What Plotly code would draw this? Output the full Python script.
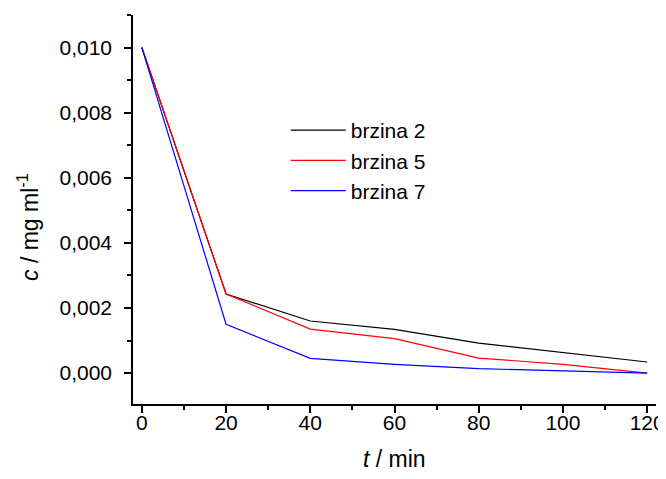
import plotly.graph_objects as go

t_min = [0, 20, 40, 60, 80, 100, 120]
brzina_2 = [0.0100, 0.00243, 0.00160, 0.00134, 0.00092, 0.00063, 0.00034]
brzina_5 = [0.0100, 0.00243, 0.00135, 0.00106, 0.00046, 0.00027, 0.00000]
brzina_7 = [0.0100, 0.00150, 0.00045, 0.00027, 0.000135, 0.00006, 0.00000]

series = [
    ("brzina 2", brzina_2, "#000000"),
    ("brzina 5", brzina_5, "#ff0000"),
    ("brzina 7", brzina_7, "#0000ff"),
]

fig = go.Figure()
for name, vals, color in series:
    fig.add_trace(go.Scatter(
        x=t_min, y=vals, name=name, mode="lines",
        line=dict(color=color, width=1.2),
    ))

font_family = "Liberation Sans, Arial"
axis_common = dict(
    showgrid=False, zeroline=False, automargin=False,
    showline=True, linecolor="black", linewidth=1.5,
    ticks="outside", ticklen=7, tickwidth=1.5, tickcolor="black",
    ticklabeloverflow="allow",
    tickfont=dict(family=font_family, size=21, color="black"),
)
minor_ticks = dict(ticks="outside", ticklen=4, tickwidth=1.5, tickcolor="black")

# page body has an 8px margin, so the figure is shifted by it
fig.update_layout(
    width=658, height=463,
    margin=dict(l=125, r=10, t=7, b=67),
    paper_bgcolor="white", plot_bgcolor="white",
    separators=",.",
    font=dict(family=font_family, color="black"),
    xaxis=dict(
        range=[-2.1, 122.1], tickvals=[0, 20, 40, 60, 80, 100, 120],
        minor=dict(dtick=10, **minor_ticks),
        ticklabelstandoff=-8,
        **axis_common,
    ),
    yaxis=dict(
        range=[-0.00095, 0.011], tickvals=[0, 0.002, 0.004, 0.006, 0.008, 0.010],
        tickformat=".3f",
        minor=dict(tickvals=[0.001, 0.003, 0.005, 0.007, 0.009, 0.011], **minor_ticks),
        ticklabelstandoff=8,
        **axis_common,
    ),
    legend=dict(
        x=0.292, y=0.756, xanchor="left", yanchor="top",
        bgcolor="rgba(0,0,0,0)", font=dict(size=21),
        itemwidth=55, tracegroupgap=0,
    ),
    annotations=[
        dict(text="<i>t</i> / min", xref="paper", yref="paper", x=0.5, y=0,
             xanchor="center", yanchor="middle", yshift=-55,
             showarrow=False, font=dict(size=23)),
        dict(text="<i>c</i> / mg ml<sup>-1</sup>", xref="paper", yref="paper",
             x=0, y=0.455, xanchor="center", yanchor="middle", xshift=-105,
             textangle=-90, showarrow=False, font=dict(size=23)),
    ],
)

fig.write_html("out.html")
